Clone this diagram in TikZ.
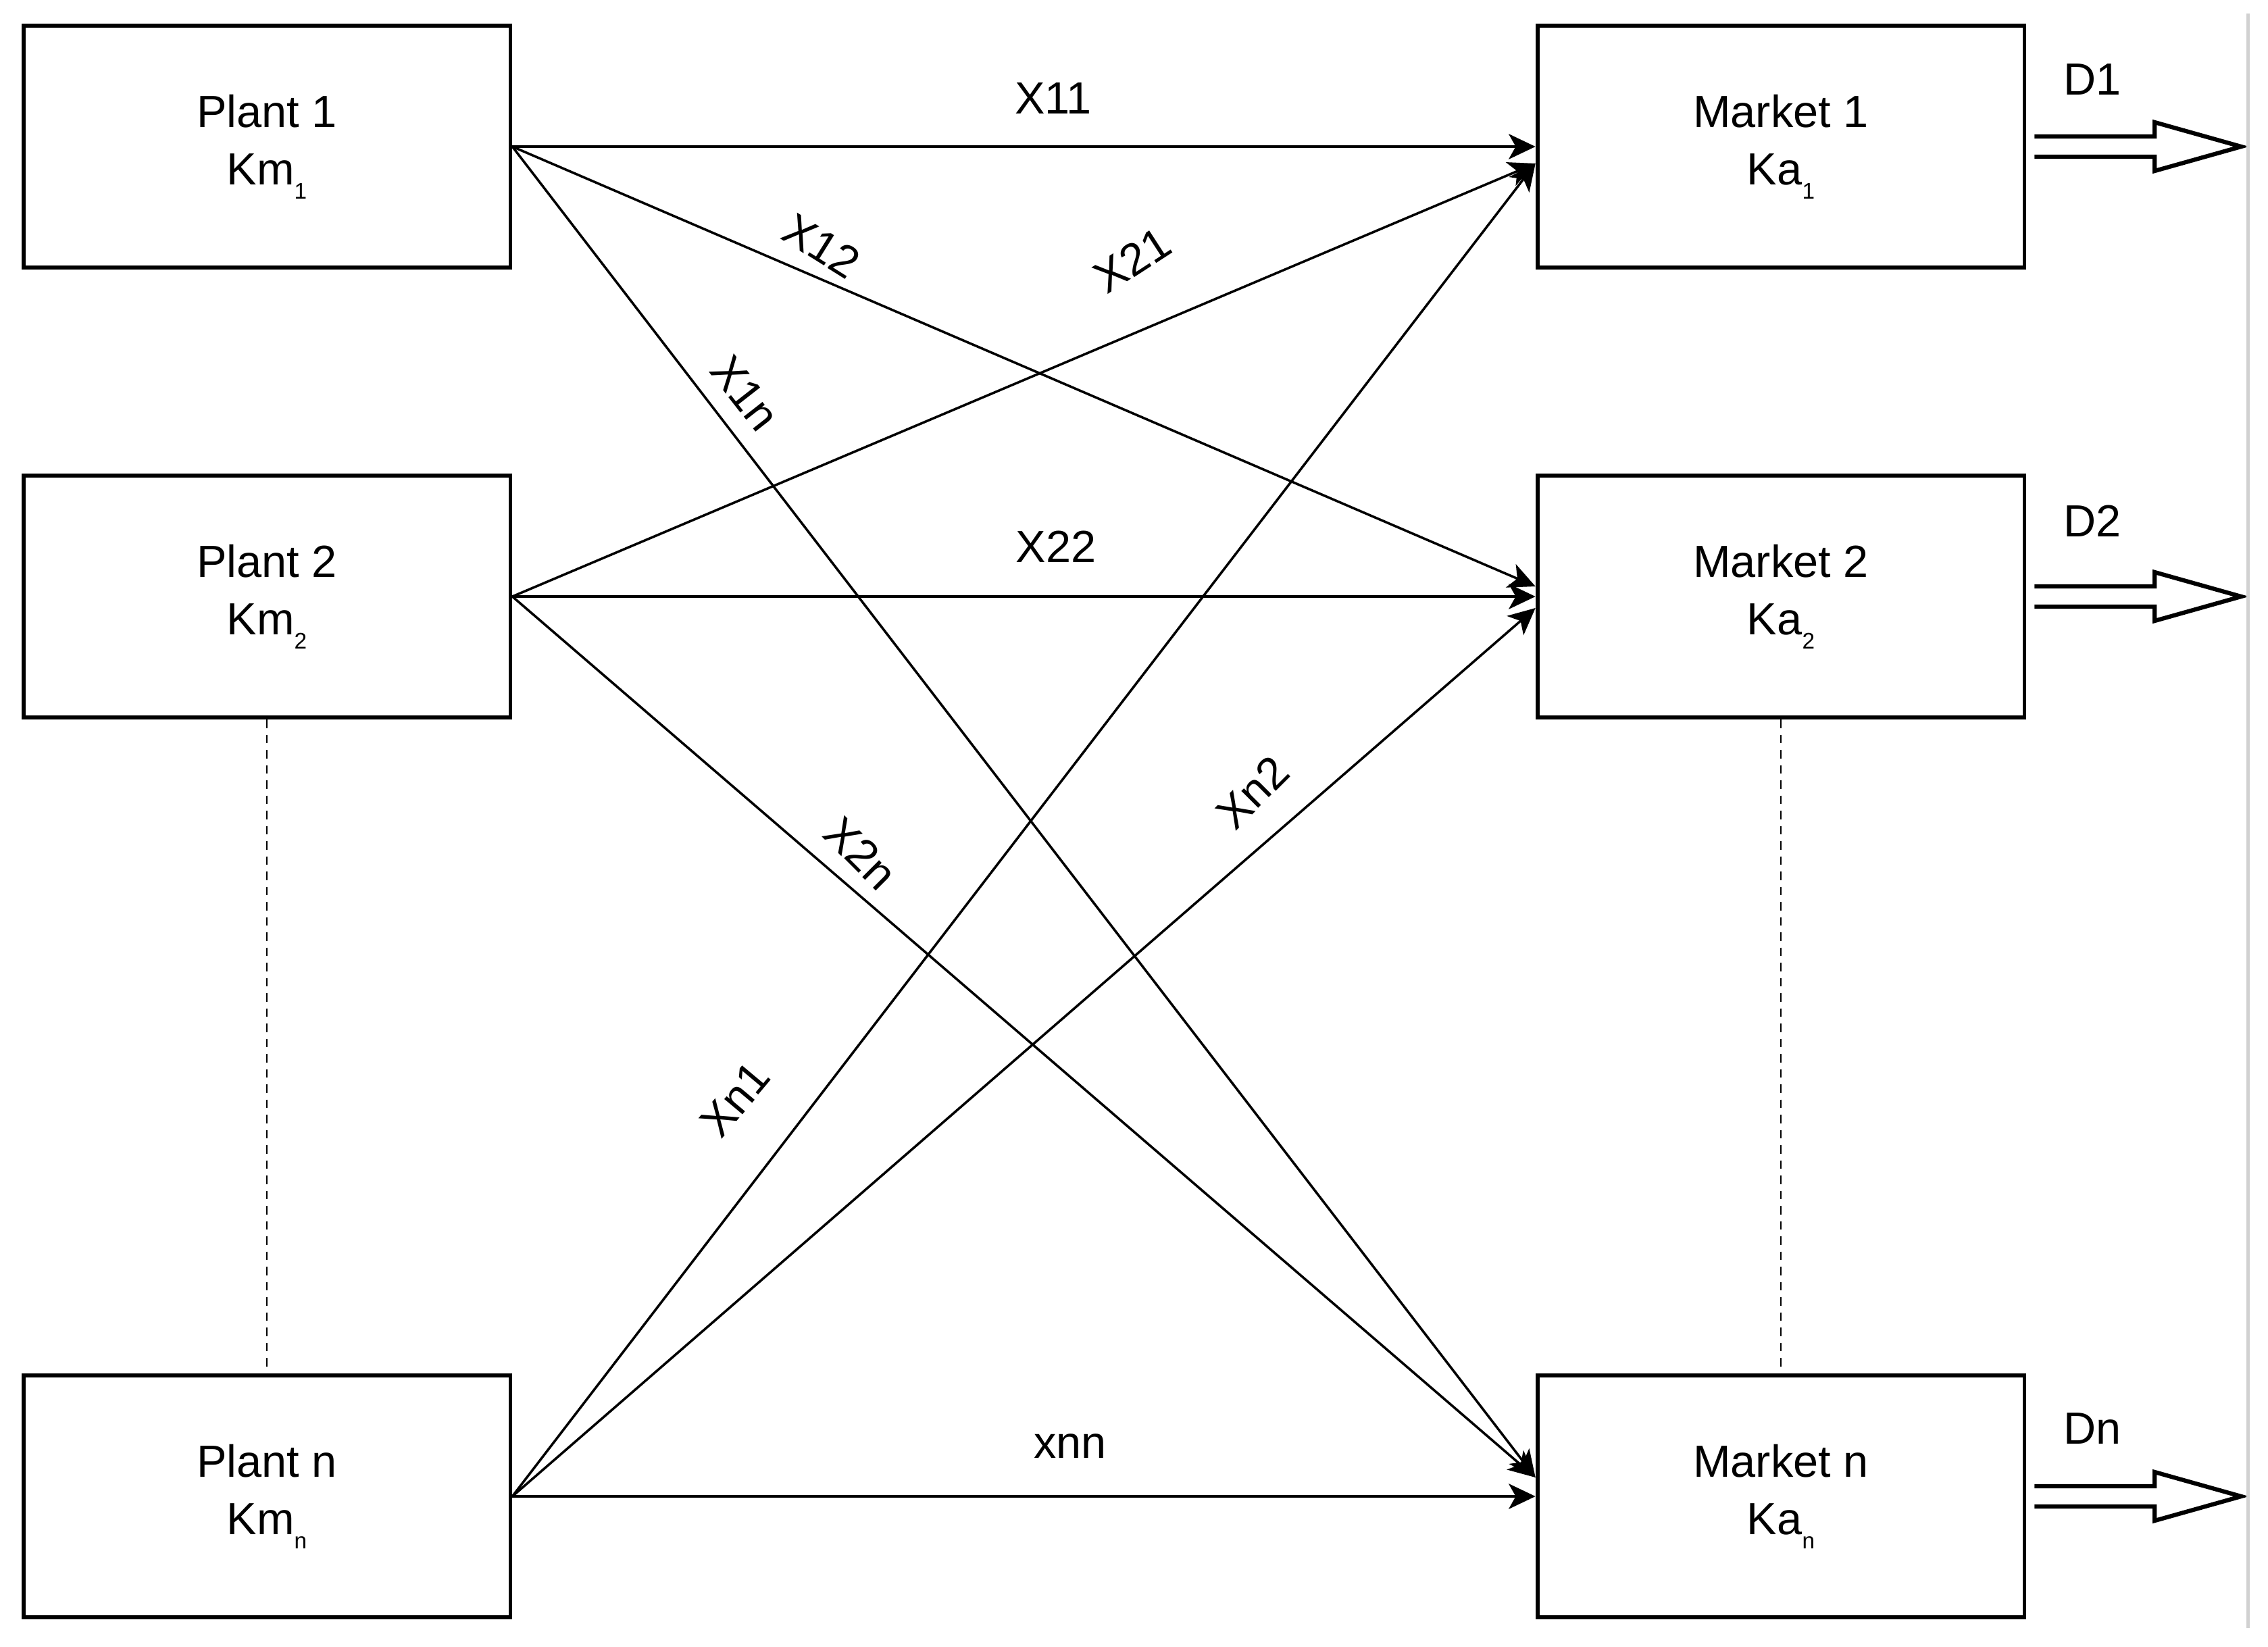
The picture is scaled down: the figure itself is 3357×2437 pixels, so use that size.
\documentclass[tikz,border=0pt]{standalone}
\usepackage{fontspec}
\setmainfont{Liberation Sans}
\usetikzlibrary{arrows.meta,calc}
\newcommand\lowsub[1]{\raisebox{-5pt}{\fontsize{8}{9}\selectfont #1}}
\begin{document}
\begin{tikzpicture}[x=0.24pt,y=-0.24pt,
  box/.style={draw,line width=1.4pt,minimum width=173pt,minimum height=86pt,align=center,
    font=\fontsize{16}{20.5}\selectfont,inner sep=0pt},
  flow/.style={line width=0.85pt,-{Stealth[length=9.5pt,width=9pt,inset=2.5pt]}},
  lbl/.style={font=\fontsize{16}{19}\selectfont,inner sep=0pt},
  dotsline/.style={line width=0.6pt,dash pattern=on 3pt off 2.4pt},
  hollow/.style={line width=1.5pt,fill=white,line join=miter},
  edgeline/.style={line width=1.2pt,draw=black!18}]
\useasboundingbox (0,0) rectangle (3357,2437);
% boxes
\node[box] (p1) at (395,217) {Plant 1\\Km\lowsub{1}};
\node[box] (p2) at (395,883) {Plant 2\\Km\lowsub{2}};
\node[box] (pn) at (395,2215) {Plant n\\Km\lowsub{n}};
\node[box] (m1) at (2636,217) {Market 1\\Ka\lowsub{1}};
\node[box] (m2) at (2636,883) {Market 2\\Ka\lowsub{2}};
\node[box] (mn) at (2636,2215) {Market n\\Ka\lowsub{n}};
% dashed continuation
\draw[dotsline] (p2.south) -- (pn.north);
\draw[dotsline] (m2.south) -- (mn.north);
% flows
\draw[flow] (p1.east) -- (m1.west);
\draw[flow] (p1.east) -- ($(m2.west)+(0,-15)$);
\draw[flow] (p1.east) -- ($(mn.west)+(0,-28)$);
\draw[flow] (p2.east) -- ($(m1.west)+(0,25)$);
\draw[flow] (p2.east) -- (m2.west);
\draw[flow] (p2.east) -- ($(mn.west)+(0,-28)$);
\draw[flow] (pn.east) -- ($(m1.west)+(0,25)$);
\draw[flow] (pn.east) -- ($(m2.west)+(0,17)$);
\draw[flow] (pn.east) -- (mn.west);
% flow labels
\node[lbl] (l11) at (1559,146) {X11};
\node[lbl] (l22) at (1563,809) {X22};
\node[lbl] (lnn) at (1584,2141) {xnn};
\node[lbl,rotate=-32] (l12) at (1216,364) {X12};
\node[lbl,rotate=33] (l21) at (1676,385) {X21};
\node[lbl,rotate=-52] (l1n) at (1103,582) {X1n};
\node[lbl,rotate=-45] (l2n) at (1274,1263) {X2n};
\node[lbl,rotate=45] (ln2) at (1854,1173) {Xn2};
\node[lbl,rotate=50] (ln1) at (1088,1627) {Xn1};
% demand arrows
\foreach \m/\d/\dy in {m1/D1/-99, m2/D2/-112, mn/Dn/-100}{
  \coordinate (\m tip) at ($(\m.east)+(318,0)$);
  \draw[hollow] ($(\m.east)+(12,-15)$) -- ++(178,0) -- ++(0,-21) -- (\m tip)
     -- ($(\m.east)+(190,36)$) -- ++(0,-21) -- ($(\m.east)+(12,15)$);
  \node[lbl] (\m dl) at ($(\m.east)+(98,\dy)$) {\d};
}
% faint scan edge on the right
\coordinate (edgetop) at (3327,20);
\coordinate (edgebot) at (3327,2410);
\draw[edgeline] (edgetop) -- (edgebot);
\end{tikzpicture}
\end{document}
